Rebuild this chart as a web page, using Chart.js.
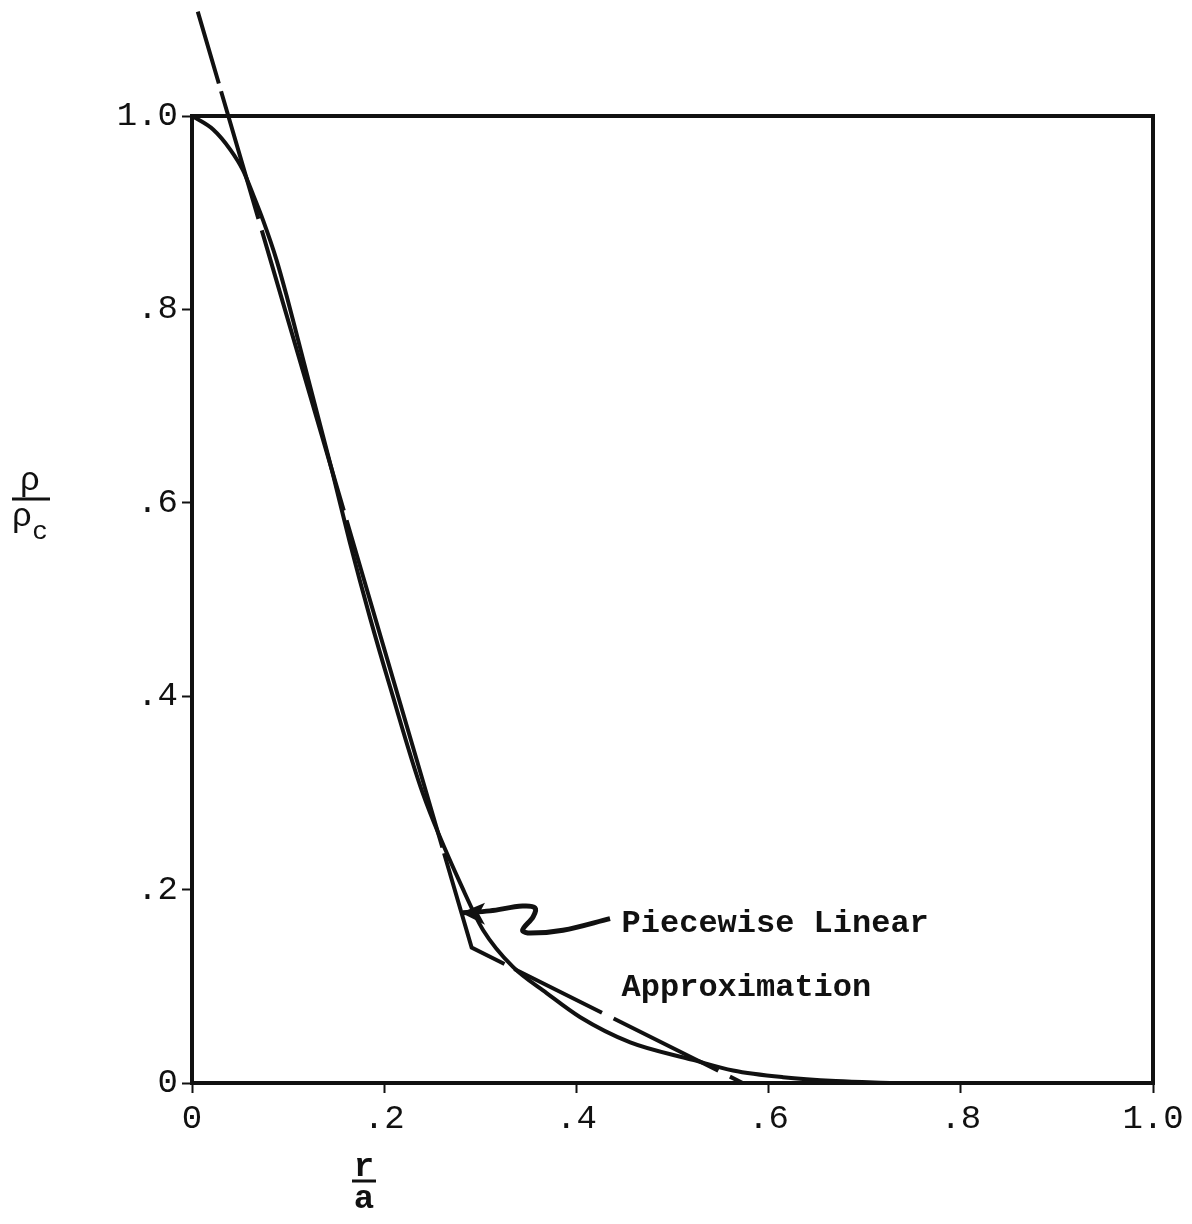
<!DOCTYPE html>
<html lang="en">
<head>
<meta charset="UTF-8">
<title>Density profile</title>
<style>
    body { margin: 0; background: #fff; }
    #wrap { width: 1192px; height: 1224px; }
</style>
</head>
<body>
<div id="wrap"><canvas id="chart" width="1192" height="1224"></canvas></div>

<script src="https://cdn.jsdelivr.net/npm/chart.js"></script>
<script>
    // smooth density curve rho/rho_c against r/a
    const curveR   = [0, 0.022, 0.040, 0.053, 0.063, 0.074, 0.088, 0.099, 0.110, 0.123, 0.146, 0.164, 0.185, 0.206, 0.240, 0.284, 0.303, 0.334, 0.369, 0.404, 0.456, 0.521, 0.563, 0.615, 0.670, 0.730];
    const curveRho = [1.0, 0.986, 0.965, 0.944, 0.920, 0.892, 0.851, 0.812, 0.770, 0.720, 0.632, 0.560, 0.482, 0.410, 0.300, 0.196, 0.158, 0.120, 0.093, 0.068, 0.042, 0.024, 0.013, 0.006, 0.002, 0.0];

    // piecewise linear approximation (dashed)
    const approxR   = [0.006, 0.291, 0.573];
    const approxRho = [1.108, 0.140, 0.0];

    // annotation arrow path
    const arrowR   = [0.282, 0.310, 0.344, 0.357, 0.355, 0.344, 0.352, 0.386, 0.435];
    const arrowRho = [0.176, 0.178, 0.183, 0.181, 0.172, 0.158, 0.155, 0.158, 0.170];

    const tickValues = [0, 0.2, 0.4, 0.6, 0.8, 1.0];
    const tickLabels = ['0', '.2', '.4', '.6', '.8', '1.0'];

    const FONT = '"Liberation Mono", "Courier New", monospace';
    const INK = '#111';

    const toPts = (xs, ys) => xs.map((x, i) => ({ x: x, y: ys[i] }));
    const labelFor = v => {
        const i = tickValues.findIndex(t => Math.abs(t - v) < 1e-6);
        return i >= 0 ? tickLabels[i] : '';
    };

    const decorations = {
        id: 'decorations',
        afterDatasetsDraw(chart) {
            const ctx = chart.ctx;
            const a = chart.chartArea;
            const xs = chart.scales.x, ys = chart.scales.y;
            ctx.save();
            ctx.strokeStyle = INK;
            ctx.fillStyle = INK;
            // frame
            ctx.lineWidth = 4;
            ctx.strokeRect(a.left, a.top, a.right - a.left, a.bottom - a.top);

            // arrow head
            const tx = xs.getPixelForValue(arrowR[0]);
            const ty = ys.getPixelForValue(arrowRho[0]);
            ctx.beginPath();
            ctx.moveTo(tx - 2, ty);
            ctx.lineTo(tx + 22, ty - 10);
            ctx.lineTo(tx + 16, ty + 1);
            ctx.lineTo(tx + 22, ty + 12);
            ctx.closePath();
            ctx.fill();

            // labels
            ctx.font = 'bold 32px ' + FONT;
            ctx.textBaseline = 'alphabetic';
            ctx.textAlign = 'left';
            ctx.fillText('Piecewise Linear', xs.getPixelForValue(0.447), ys.getPixelForValue(0.156));
            ctx.fillText('Approximation', xs.getPixelForValue(0.447), ys.getPixelForValue(0.090));

            // y axis title: rho / rho_c
            ctx.font = '34px ' + FONT;
            ctx.textAlign = 'center';
            ctx.fillText('ρ', 30, 490);
            ctx.lineWidth = 3;
            ctx.beginPath();
            ctx.moveTo(12, 499);
            ctx.lineTo(50, 499);
            ctx.stroke();
            ctx.fillText('ρ', 22, 526);
            ctx.font = '26px ' + FONT;
            ctx.fillText('c', 40, 539);

            // x axis title: r / a
            ctx.font = 'bold 34px ' + FONT;
            ctx.fillText('r', 364, 1176);
            ctx.beginPath();
            ctx.moveTo(352, 1181);
            ctx.lineTo(376, 1181);
            ctx.stroke();
            ctx.fillText('a', 364, 1208);
            ctx.restore();
        }
    };

    const ctx = document.getElementById('chart').getContext('2d');
    new Chart(ctx, {
        type: 'line',
        data: {
            datasets: [
                {
                    data: toPts(curveR, curveRho),
                    borderColor: INK,
                    borderWidth: 4,
                    pointRadius: 0,
                    cubicInterpolationMode: 'monotone',
                    fill: false
                },
                {
                    data: toPts(approxR, approxRho),
                    borderColor: INK,
                    borderWidth: 4,
                    borderDash: [75, 8, 133, 12, 292, 10, 341, 6, 135, 11, 98, 13, 117, 13, 60],
                    pointRadius: 0,
                    tension: 0,
                    clip: false,
                    fill: false
                },
                {
                    data: toPts(arrowR, arrowRho),
                    borderColor: INK,
                    borderWidth: 5,
                    pointRadius: 0,
                    tension: 0.35,
                    fill: false
                }
            ]
        },
        options: {
            responsive: false,
            devicePixelRatio: 1,
            animation: false,
            layout: { padding: { top: 116, right: 39, left: 0, bottom: 0 } },
            plugins: { legend: { display: false }, tooltip: { enabled: false } },
            scales: {
                x: {
                    type: 'linear',
                    min: 0, max: 1,
                    afterBuildTicks: s => { s.ticks = tickValues.map(v => ({ value: v })); },
                    afterFit: s => { s.height = 141; },
                    grid: { drawOnChartArea: false, tickLength: 10, tickWidth: 2, color: INK },
                    border: { display: true, color: INK, width: 4 },
                    ticks: {
                        callback: v => labelFor(v),
                        color: INK,
                        font: { family: FONT, size: 34 },
                        padding: 6,
                        maxRotation: 0
                    }
                },
                y: {
                    type: 'linear',
                    min: 0, max: 1,
                    afterBuildTicks: s => { s.ticks = tickValues.map(v => ({ value: v })); },
                    afterFit: s => { s.width = 192; },
                    grid: { drawOnChartArea: false, tickLength: 10, tickWidth: 2, color: INK },
                    border: { display: true, color: INK, width: 4 },
                    ticks: {
                        callback: v => labelFor(v),
                        color: INK,
                        font: { family: FONT, size: 34 },
                        padding: 4
                    }
                }
            }
        },
        plugins: [decorations]
    });
</script>
</body>
</html>
